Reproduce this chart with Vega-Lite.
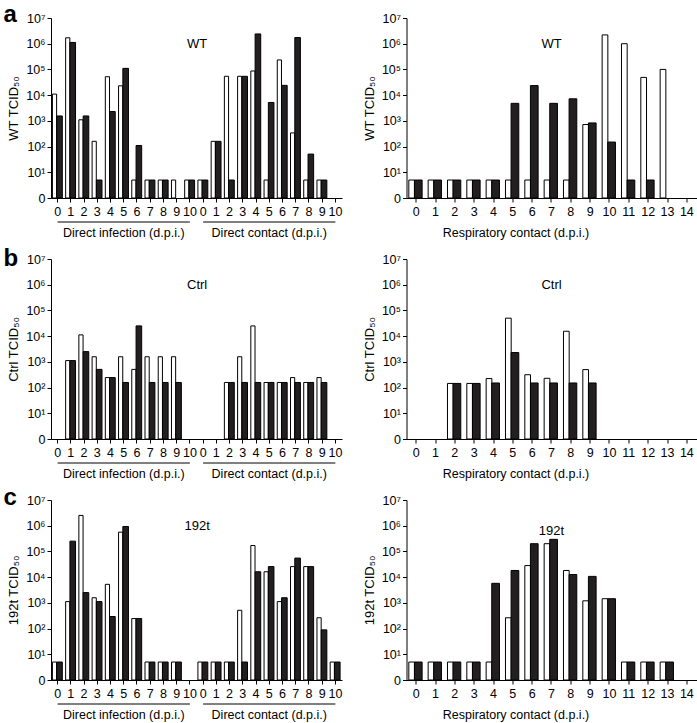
{
"$schema": "https://vega.github.io/schema/vega-lite/v6.json",
"padding": {"left": 3, "top": 3, "right": 0, "bottom": 0},
"config": {
  "font": "Liberation Sans",
  "view": {"stroke": null},
  "axis": {"domainColor": "black", "tickColor": "black", "labelColor": "black", "titleColor": "black", "grid": false, "labelFontSize": 12.5, "titleFontSize": 13, "titleFontWeight": "normal", "labelOverlap": false, "tickSize": 4, "domainWidth": 1, "tickWidth": 1},
  "text": {"color": "black"}
},
"datasets": {"titers": [
{"strain":"WT","route":"infection","day":0,"ferret":"A","tcid50":11000},{"strain":"WT","route":"infection","day":0,"ferret":"B","tcid50":1550},
{"strain":"WT","route":"infection","day":1,"ferret":"A","tcid50":1700000},{"strain":"WT","route":"infection","day":1,"ferret":"B","tcid50":1120000},
{"strain":"WT","route":"infection","day":2,"ferret":"A","tcid50":1100},{"strain":"WT","route":"infection","day":2,"ferret":"B","tcid50":1550},
{"strain":"WT","route":"infection","day":3,"ferret":"A","tcid50":160},{"strain":"WT","route":"infection","day":3,"ferret":"B","tcid50":5},
{"strain":"WT","route":"infection","day":4,"ferret":"A","tcid50":52000},{"strain":"WT","route":"infection","day":4,"ferret":"B","tcid50":2300},
{"strain":"WT","route":"infection","day":5,"ferret":"A","tcid50":23000},{"strain":"WT","route":"infection","day":5,"ferret":"B","tcid50":110000},
{"strain":"WT","route":"infection","day":6,"ferret":"A","tcid50":5},{"strain":"WT","route":"infection","day":6,"ferret":"B","tcid50":110},
{"strain":"WT","route":"infection","day":7,"ferret":"A","tcid50":5},{"strain":"WT","route":"infection","day":7,"ferret":"B","tcid50":5},
{"strain":"WT","route":"infection","day":8,"ferret":"A","tcid50":5},{"strain":"WT","route":"infection","day":8,"ferret":"B","tcid50":5},
{"strain":"WT","route":"infection","day":9,"ferret":"A","tcid50":5},
{"strain":"WT","route":"infection","day":10,"ferret":"A","tcid50":5},{"strain":"WT","route":"infection","day":10,"ferret":"B","tcid50":5},
{"strain":"WT","route":"contact","day":0,"ferret":"A","tcid50":5},{"strain":"WT","route":"contact","day":0,"ferret":"B","tcid50":5},
{"strain":"WT","route":"contact","day":1,"ferret":"A","tcid50":160},{"strain":"WT","route":"contact","day":1,"ferret":"B","tcid50":160},
{"strain":"WT","route":"contact","day":2,"ferret":"A","tcid50":54000},{"strain":"WT","route":"contact","day":2,"ferret":"B","tcid50":5},
{"strain":"WT","route":"contact","day":3,"ferret":"A","tcid50":54000},{"strain":"WT","route":"contact","day":3,"ferret":"B","tcid50":54000},
{"strain":"WT","route":"contact","day":4,"ferret":"A","tcid50":87000},{"strain":"WT","route":"contact","day":4,"ferret":"B","tcid50":2400000},
{"strain":"WT","route":"contact","day":5,"ferret":"A","tcid50":5},{"strain":"WT","route":"contact","day":5,"ferret":"B","tcid50":5200},
{"strain":"WT","route":"contact","day":6,"ferret":"A","tcid50":234000},{"strain":"WT","route":"contact","day":6,"ferret":"B","tcid50":24000},
{"strain":"WT","route":"contact","day":7,"ferret":"A","tcid50":340},{"strain":"WT","route":"contact","day":7,"ferret":"B","tcid50":1740000},
{"strain":"WT","route":"contact","day":8,"ferret":"A","tcid50":5},{"strain":"WT","route":"contact","day":8,"ferret":"B","tcid50":51},
{"strain":"WT","route":"contact","day":9,"ferret":"A","tcid50":5},{"strain":"WT","route":"contact","day":9,"ferret":"B","tcid50":5},
{"strain":"WT","route":"respiratory","day":0,"ferret":"A","tcid50":5},{"strain":"WT","route":"respiratory","day":0,"ferret":"B","tcid50":5},
{"strain":"WT","route":"respiratory","day":1,"ferret":"A","tcid50":5},{"strain":"WT","route":"respiratory","day":1,"ferret":"B","tcid50":5},
{"strain":"WT","route":"respiratory","day":2,"ferret":"A","tcid50":5},{"strain":"WT","route":"respiratory","day":2,"ferret":"B","tcid50":5},
{"strain":"WT","route":"respiratory","day":3,"ferret":"A","tcid50":5},{"strain":"WT","route":"respiratory","day":3,"ferret":"B","tcid50":5},
{"strain":"WT","route":"respiratory","day":4,"ferret":"A","tcid50":5},{"strain":"WT","route":"respiratory","day":4,"ferret":"B","tcid50":5},
{"strain":"WT","route":"respiratory","day":5,"ferret":"A","tcid50":5},{"strain":"WT","route":"respiratory","day":5,"ferret":"B","tcid50":4800},
{"strain":"WT","route":"respiratory","day":6,"ferret":"A","tcid50":5},{"strain":"WT","route":"respiratory","day":6,"ferret":"B","tcid50":23500},
{"strain":"WT","route":"respiratory","day":7,"ferret":"A","tcid50":5},{"strain":"WT","route":"respiratory","day":7,"ferret":"B","tcid50":4800},
{"strain":"WT","route":"respiratory","day":8,"ferret":"A","tcid50":5},{"strain":"WT","route":"respiratory","day":8,"ferret":"B","tcid50":7200},
{"strain":"WT","route":"respiratory","day":9,"ferret":"A","tcid50":720},{"strain":"WT","route":"respiratory","day":9,"ferret":"B","tcid50":830},
{"strain":"WT","route":"respiratory","day":10,"ferret":"A","tcid50":2200000},{"strain":"WT","route":"respiratory","day":10,"ferret":"B","tcid50":150},
{"strain":"WT","route":"respiratory","day":11,"ferret":"A","tcid50":1000000},{"strain":"WT","route":"respiratory","day":11,"ferret":"B","tcid50":5},
{"strain":"WT","route":"respiratory","day":12,"ferret":"A","tcid50":49000},{"strain":"WT","route":"respiratory","day":12,"ferret":"B","tcid50":5},
{"strain":"WT","route":"respiratory","day":13,"ferret":"A","tcid50":100000},
{"strain":"Ctrl","route":"infection","day":1,"ferret":"A","tcid50":1120},{"strain":"Ctrl","route":"infection","day":1,"ferret":"B","tcid50":1120},
{"strain":"Ctrl","route":"infection","day":2,"ferret":"A","tcid50":11200},{"strain":"Ctrl","route":"infection","day":2,"ferret":"B","tcid50":2500},
{"strain":"Ctrl","route":"infection","day":3,"ferret":"A","tcid50":1580},{"strain":"Ctrl","route":"infection","day":3,"ferret":"B","tcid50":510},
{"strain":"Ctrl","route":"infection","day":4,"ferret":"A","tcid50":245},{"strain":"Ctrl","route":"infection","day":4,"ferret":"B","tcid50":245},
{"strain":"Ctrl","route":"infection","day":5,"ferret":"A","tcid50":1580},{"strain":"Ctrl","route":"infection","day":5,"ferret":"B","tcid50":158},
{"strain":"Ctrl","route":"infection","day":6,"ferret":"A","tcid50":510},{"strain":"Ctrl","route":"infection","day":6,"ferret":"B","tcid50":25000},
{"strain":"Ctrl","route":"infection","day":7,"ferret":"A","tcid50":1580},{"strain":"Ctrl","route":"infection","day":7,"ferret":"B","tcid50":158},
{"strain":"Ctrl","route":"infection","day":8,"ferret":"A","tcid50":1580},{"strain":"Ctrl","route":"infection","day":8,"ferret":"B","tcid50":158},
{"strain":"Ctrl","route":"infection","day":9,"ferret":"A","tcid50":1580},{"strain":"Ctrl","route":"infection","day":9,"ferret":"B","tcid50":158},
{"strain":"Ctrl","route":"contact","day":2,"ferret":"A","tcid50":158},{"strain":"Ctrl","route":"contact","day":2,"ferret":"B","tcid50":158},
{"strain":"Ctrl","route":"contact","day":3,"ferret":"A","tcid50":1580},{"strain":"Ctrl","route":"contact","day":3,"ferret":"B","tcid50":158},
{"strain":"Ctrl","route":"contact","day":4,"ferret":"A","tcid50":25000},{"strain":"Ctrl","route":"contact","day":4,"ferret":"B","tcid50":158},
{"strain":"Ctrl","route":"contact","day":5,"ferret":"A","tcid50":158},{"strain":"Ctrl","route":"contact","day":5,"ferret":"B","tcid50":158},
{"strain":"Ctrl","route":"contact","day":6,"ferret":"A","tcid50":158},{"strain":"Ctrl","route":"contact","day":6,"ferret":"B","tcid50":158},
{"strain":"Ctrl","route":"contact","day":7,"ferret":"A","tcid50":245},{"strain":"Ctrl","route":"contact","day":7,"ferret":"B","tcid50":158},
{"strain":"Ctrl","route":"contact","day":8,"ferret":"A","tcid50":158},{"strain":"Ctrl","route":"contact","day":8,"ferret":"B","tcid50":158},
{"strain":"Ctrl","route":"contact","day":9,"ferret":"A","tcid50":245},{"strain":"Ctrl","route":"contact","day":9,"ferret":"B","tcid50":158},
{"strain":"Ctrl","route":"respiratory","day":2,"ferret":"A","tcid50":145},{"strain":"Ctrl","route":"respiratory","day":2,"ferret":"B","tcid50":145},
{"strain":"Ctrl","route":"respiratory","day":3,"ferret":"A","tcid50":145},{"strain":"Ctrl","route":"respiratory","day":3,"ferret":"B","tcid50":145},
{"strain":"Ctrl","route":"respiratory","day":4,"ferret":"A","tcid50":224},{"strain":"Ctrl","route":"respiratory","day":4,"ferret":"B","tcid50":151},
{"strain":"Ctrl","route":"respiratory","day":5,"ferret":"A","tcid50":50000},{"strain":"Ctrl","route":"respiratory","day":5,"ferret":"B","tcid50":2300},
{"strain":"Ctrl","route":"respiratory","day":6,"ferret":"A","tcid50":316},{"strain":"Ctrl","route":"respiratory","day":6,"ferret":"B","tcid50":151},
{"strain":"Ctrl","route":"respiratory","day":7,"ferret":"A","tcid50":229},{"strain":"Ctrl","route":"respiratory","day":7,"ferret":"B","tcid50":151},
{"strain":"Ctrl","route":"respiratory","day":8,"ferret":"A","tcid50":15500},{"strain":"Ctrl","route":"respiratory","day":8,"ferret":"B","tcid50":151},
{"strain":"Ctrl","route":"respiratory","day":9,"ferret":"A","tcid50":500},{"strain":"Ctrl","route":"respiratory","day":9,"ferret":"B","tcid50":151},
{"strain":"192t","route":"infection","day":0,"ferret":"A","tcid50":5},{"strain":"192t","route":"infection","day":0,"ferret":"B","tcid50":5},
{"strain":"192t","route":"infection","day":1,"ferret":"A","tcid50":1120},{"strain":"192t","route":"infection","day":1,"ferret":"B","tcid50":251000},
{"strain":"192t","route":"infection","day":2,"ferret":"A","tcid50":2510000},{"strain":"192t","route":"infection","day":2,"ferret":"B","tcid50":2510},
{"strain":"192t","route":"infection","day":3,"ferret":"A","tcid50":1580},{"strain":"192t","route":"infection","day":3,"ferret":"B","tcid50":1120},
{"strain":"192t","route":"infection","day":4,"ferret":"A","tcid50":5250},{"strain":"192t","route":"infection","day":4,"ferret":"B","tcid50":295},
{"strain":"192t","route":"infection","day":5,"ferret":"A","tcid50":562000},{"strain":"192t","route":"infection","day":5,"ferret":"B","tcid50":933000},
{"strain":"192t","route":"infection","day":6,"ferret":"A","tcid50":245},{"strain":"192t","route":"infection","day":6,"ferret":"B","tcid50":245},
{"strain":"192t","route":"infection","day":7,"ferret":"A","tcid50":5},{"strain":"192t","route":"infection","day":7,"ferret":"B","tcid50":5},
{"strain":"192t","route":"infection","day":8,"ferret":"A","tcid50":5},{"strain":"192t","route":"infection","day":8,"ferret":"B","tcid50":5},
{"strain":"192t","route":"infection","day":9,"ferret":"A","tcid50":5},{"strain":"192t","route":"infection","day":9,"ferret":"B","tcid50":5},
{"strain":"192t","route":"contact","day":0,"ferret":"A","tcid50":5},{"strain":"192t","route":"contact","day":0,"ferret":"B","tcid50":5},
{"strain":"192t","route":"contact","day":1,"ferret":"A","tcid50":5},{"strain":"192t","route":"contact","day":1,"ferret":"B","tcid50":5},
{"strain":"192t","route":"contact","day":2,"ferret":"A","tcid50":5},{"strain":"192t","route":"contact","day":2,"ferret":"B","tcid50":5},
{"strain":"192t","route":"contact","day":3,"ferret":"A","tcid50":513},{"strain":"192t","route":"contact","day":3,"ferret":"B","tcid50":5},
{"strain":"192t","route":"contact","day":4,"ferret":"A","tcid50":170000},{"strain":"192t","route":"contact","day":4,"ferret":"B","tcid50":16200},
{"strain":"192t","route":"contact","day":5,"ferret":"A","tcid50":16200},{"strain":"192t","route":"contact","day":5,"ferret":"B","tcid50":25700},
{"strain":"192t","route":"contact","day":6,"ferret":"A","tcid50":1120},{"strain":"192t","route":"contact","day":6,"ferret":"B","tcid50":1580},
{"strain":"192t","route":"contact","day":7,"ferret":"A","tcid50":25700},{"strain":"192t","route":"contact","day":7,"ferret":"B","tcid50":55000},
{"strain":"192t","route":"contact","day":8,"ferret":"A","tcid50":25700},{"strain":"192t","route":"contact","day":8,"ferret":"B","tcid50":25700},
{"strain":"192t","route":"contact","day":9,"ferret":"A","tcid50":263},{"strain":"192t","route":"contact","day":9,"ferret":"B","tcid50":89},
{"strain":"192t","route":"contact","day":10,"ferret":"A","tcid50":5},{"strain":"192t","route":"contact","day":10,"ferret":"B","tcid50":5},
{"strain":"192t","route":"respiratory","day":0,"ferret":"A","tcid50":5},{"strain":"192t","route":"respiratory","day":0,"ferret":"B","tcid50":5},
{"strain":"192t","route":"respiratory","day":1,"ferret":"A","tcid50":5},{"strain":"192t","route":"respiratory","day":1,"ferret":"B","tcid50":5},
{"strain":"192t","route":"respiratory","day":2,"ferret":"A","tcid50":5},{"strain":"192t","route":"respiratory","day":2,"ferret":"B","tcid50":5},
{"strain":"192t","route":"respiratory","day":3,"ferret":"A","tcid50":5},{"strain":"192t","route":"respiratory","day":3,"ferret":"B","tcid50":5},
{"strain":"192t","route":"respiratory","day":4,"ferret":"A","tcid50":5},{"strain":"192t","route":"respiratory","day":4,"ferret":"B","tcid50":5750},
{"strain":"192t","route":"respiratory","day":5,"ferret":"A","tcid50":263},{"strain":"192t","route":"respiratory","day":5,"ferret":"B","tcid50":18200},
{"strain":"192t","route":"respiratory","day":6,"ferret":"A","tcid50":28200},{"strain":"192t","route":"respiratory","day":6,"ferret":"B","tcid50":200000},
{"strain":"192t","route":"respiratory","day":7,"ferret":"A","tcid50":200000},{"strain":"192t","route":"respiratory","day":7,"ferret":"B","tcid50":295000},
{"strain":"192t","route":"respiratory","day":8,"ferret":"A","tcid50":18200},{"strain":"192t","route":"respiratory","day":8,"ferret":"B","tcid50":12600},
{"strain":"192t","route":"respiratory","day":9,"ferret":"A","tcid50":1200},{"strain":"192t","route":"respiratory","day":9,"ferret":"B","tcid50":10700},
{"strain":"192t","route":"respiratory","day":10,"ferret":"A","tcid50":1450},{"strain":"192t","route":"respiratory","day":10,"ferret":"B","tcid50":1450},
{"strain":"192t","route":"respiratory","day":11,"ferret":"A","tcid50":5},{"strain":"192t","route":"respiratory","day":11,"ferret":"B","tcid50":5},
{"strain":"192t","route":"respiratory","day":12,"ferret":"A","tcid50":5},{"strain":"192t","route":"respiratory","day":12,"ferret":"B","tcid50":5},
{"strain":"192t","route":"respiratory","day":13,"ferret":"A","tcid50":5},{"strain":"192t","route":"respiratory","day":13,"ferret":"B","tcid50":5}
],
"groups": [
{"group":"Direct infection (d.p.i.)","start":"infection|0","end":"infection|10","mid":"infection|5"},
{"group":"Direct contact (d.p.i.)","start":"contact|0","end":"contact|10","mid":"contact|5"}
]},
"columns": 2,
"bounds": "flush",
"spacing": {"row": 61, "column": 64.5},
"resolve": {"scale": {"x": "independent", "y": "independent"}},
"concat": [
 {"width": 291, "height": 180,
  "layer": [
   {"data": {"name": "titers"},
    "transform": [{"filter": "datum.strain == 'WT' && datum.route != 'respiratory' && datum.ferret == 'A'"}, {"calculate": "datum.route + '|' + datum.day", "as": "slot"}],
    "mark": {"type": "bar", "fill": "white", "stroke": "black", "strokeWidth": 1, "width": 4.2, "xOffset": -3.1},
    "encoding": {
     "x": {"field": "slot", "type": "nominal", "title": null, "scale": {"domain": ["infection|0","infection|1","infection|2","infection|3","infection|4","infection|5","infection|6","infection|7","infection|8","infection|9","infection|10","contact|0","contact|1","contact|2","contact|3","contact|4","contact|5","contact|6","contact|7","contact|8","contact|9","contact|10"], "paddingInner": 0, "paddingOuter": 0}, "axis": {"labelExpr": "split(datum.value, '|')[1]", "labelAngle": 0, "labelPadding": 3}},
     "y": {"field": "tcid50", "type": "quantitative", "title": "WT TCID₅₀", "scale": {"type": "log", "domain": [1, 10000000]}, "axis": {"values": [1,10,100,1000,10000,100000,1000000,10000000], "labelExpr": "['0','10¹','10²','10³','10⁴','10⁵','10⁶','10⁷'][round(log(datum.value)/LN10)]", "labelPadding": 2, "titlePadding": 5}},
     "y2": {"datum": 1}}},
   {"data": {"name": "titers"},
    "transform": [{"filter": "datum.strain == 'WT' && datum.route != 'respiratory' && datum.ferret == 'B'"}, {"calculate": "datum.route + '|' + datum.day", "as": "slot"}],
    "mark": {"type": "bar", "fill": "#231f20", "stroke": "black", "strokeWidth": 1, "width": 5.6, "xOffset": 1.9},
    "encoding": {"x": {"field": "slot", "type": "nominal", "title": null}, "y": {"field": "tcid50", "type": "quantitative", "title": "WT TCID₅₀"}, "y2": {"datum": 1}}},
   {"data": {"name": "groups"}, "mark": {"type": "rule", "color": "black", "strokeWidth": 1, "yOffset": 24},
    "encoding": {"x": {"field": "start", "type": "nominal", "title": null}, "x2": {"field": "end"}, "y": {"datum": 1}}},
   {"data": {"name": "groups"}, "mark": {"type": "text", "fontSize": 12.5, "baseline": "middle", "yOffset": 35},
    "encoding": {"x": {"field": "mid", "type": "nominal", "title": null}, "y": {"datum": 1}, "text": {"field": "group"}}},
   {"data": {"values": [{"label": "WT"}]}, "mark": {"type": "text", "fontSize": 13, "baseline": "middle", "dx": -6},
    "encoding": {"x": {"datum": "contact|0", "type": "nominal", "title": null}, "y": {"datum": 1000000}, "text": {"field": "label"}}},
   {"data": {"values": [{"panel": "a"}]}, "mark": {"type": "text", "fontSize": 24, "fontWeight": "bold", "align": "left", "baseline": "alphabetic", "dx": -54, "dy": 4},
    "encoding": {"x": {"datum": "infection|0", "type": "nominal", "title": null}, "y": {"datum": 10000000}, "text": {"field": "panel"}}}
  ]},
 {"width": 290, "height": 180,
  "layer": [
   {"data": {"name": "titers"},
    "transform": [{"filter": "datum.strain == 'WT' && datum.route == 'respiratory' && datum.ferret == 'A'"}],
    "mark": {"type": "bar", "fill": "white", "stroke": "black", "strokeWidth": 1, "width": 5.7, "xOffset": -4.5},
    "encoding": {
     "x": {"field": "day", "type": "ordinal", "title": "Respiratory contact (d.p.i.)", "scale": {"domain": [0,1,2,3,4,5,6,7,8,9,10,11,12,13,14], "paddingInner": 0, "paddingOuter": 0}, "axis": {"labelAngle": 0, "labelPadding": 3, "titleX": 109, "titleY": 34, "titleBaseline": "middle", "titleFontSize": 12.5}},
     "y": {"field": "tcid50", "type": "quantitative", "title": "WT TCID₅₀", "scale": {"type": "log", "domain": [1, 10000000]}, "axis": {"values": [1,10,100,1000,10000,100000,1000000,10000000], "labelExpr": "['0','10¹','10²','10³','10⁴','10⁵','10⁶','10⁷'][round(log(datum.value)/LN10)]", "labelPadding": 2, "titlePadding": 5}},
     "y2": {"datum": 1}}},
   {"data": {"name": "titers"},
    "transform": [{"filter": "datum.strain == 'WT' && datum.route == 'respiratory' && datum.ferret == 'B'"}],
    "mark": {"type": "bar", "fill": "#231f20", "stroke": "black", "strokeWidth": 1, "width": 7.7, "xOffset": 2.1},
    "encoding": {"x": {"field": "day", "type": "ordinal", "title": "Respiratory contact (d.p.i.)"}, "y": {"field": "tcid50", "type": "quantitative", "title": "WT TCID₅₀"}, "y2": {"datum": 1}}},
   {"data": {"values": [{"label": "WT"}]}, "mark": {"type": "text", "fontSize": 13, "baseline": "middle"},
    "encoding": {"x": {"datum": 7, "type": "ordinal", "title": "Respiratory contact (d.p.i.)"}, "y": {"datum": 1000000}, "text": {"field": "label"}}}
  ]},
 {"width": 291, "height": 180,
  "layer": [
   {"data": {"name": "titers"},
    "transform": [{"filter": "datum.strain == 'Ctrl' && datum.route != 'respiratory' && datum.ferret == 'A'"}, {"calculate": "datum.route + '|' + datum.day", "as": "slot"}],
    "mark": {"type": "bar", "fill": "white", "stroke": "black", "strokeWidth": 1, "width": 4.2, "xOffset": -3.1},
    "encoding": {
     "x": {"field": "slot", "type": "nominal", "title": null, "scale": {"domain": ["infection|0","infection|1","infection|2","infection|3","infection|4","infection|5","infection|6","infection|7","infection|8","infection|9","infection|10","contact|0","contact|1","contact|2","contact|3","contact|4","contact|5","contact|6","contact|7","contact|8","contact|9","contact|10"], "paddingInner": 0, "paddingOuter": 0}, "axis": {"labelExpr": "split(datum.value, '|')[1]", "labelAngle": 0, "labelPadding": 3}},
     "y": {"field": "tcid50", "type": "quantitative", "title": "Ctrl TCID₅₀", "scale": {"type": "log", "domain": [1, 10000000]}, "axis": {"values": [1,10,100,1000,10000,100000,1000000,10000000], "labelExpr": "['0','10¹','10²','10³','10⁴','10⁵','10⁶','10⁷'][round(log(datum.value)/LN10)]", "labelPadding": 2, "titlePadding": 5}},
     "y2": {"datum": 1}}},
   {"data": {"name": "titers"},
    "transform": [{"filter": "datum.strain == 'Ctrl' && datum.route != 'respiratory' && datum.ferret == 'B'"}, {"calculate": "datum.route + '|' + datum.day", "as": "slot"}],
    "mark": {"type": "bar", "fill": "#231f20", "stroke": "black", "strokeWidth": 1, "width": 5.6, "xOffset": 1.9},
    "encoding": {"x": {"field": "slot", "type": "nominal", "title": null}, "y": {"field": "tcid50", "type": "quantitative", "title": "Ctrl TCID₅₀"}, "y2": {"datum": 1}}},
   {"data": {"name": "groups"}, "mark": {"type": "rule", "color": "black", "strokeWidth": 1, "yOffset": 24},
    "encoding": {"x": {"field": "start", "type": "nominal", "title": null}, "x2": {"field": "end"}, "y": {"datum": 1}}},
   {"data": {"name": "groups"}, "mark": {"type": "text", "fontSize": 12.5, "baseline": "middle", "yOffset": 35},
    "encoding": {"x": {"field": "mid", "type": "nominal", "title": null}, "y": {"datum": 1}, "text": {"field": "group"}}},
   {"data": {"values": [{"label": "Ctrl"}]}, "mark": {"type": "text", "fontSize": 13, "baseline": "middle", "dx": -6},
    "encoding": {"x": {"datum": "contact|0", "type": "nominal", "title": null}, "y": {"datum": 1000000}, "text": {"field": "label"}}},
   {"data": {"values": [{"panel": "b"}]}, "mark": {"type": "text", "fontSize": 24, "fontWeight": "bold", "align": "left", "baseline": "alphabetic", "dx": -54, "dy": 7},
    "encoding": {"x": {"datum": "infection|0", "type": "nominal", "title": null}, "y": {"datum": 10000000}, "text": {"field": "panel"}}}
  ]},
 {"width": 290, "height": 180,
  "layer": [
   {"data": {"name": "titers"},
    "transform": [{"filter": "datum.strain == 'Ctrl' && datum.route == 'respiratory' && datum.ferret == 'A'"}],
    "mark": {"type": "bar", "fill": "white", "stroke": "black", "strokeWidth": 1, "width": 5.7, "xOffset": -4.5},
    "encoding": {
     "x": {"field": "day", "type": "ordinal", "title": "Respiratory contact (d.p.i.)", "scale": {"domain": [0,1,2,3,4,5,6,7,8,9,10,11,12,13,14], "paddingInner": 0, "paddingOuter": 0}, "axis": {"labelAngle": 0, "labelPadding": 3, "titleX": 109, "titleY": 34, "titleBaseline": "middle", "titleFontSize": 12.5}},
     "y": {"field": "tcid50", "type": "quantitative", "title": "Ctrl TCID₅₀", "scale": {"type": "log", "domain": [1, 10000000]}, "axis": {"values": [1,10,100,1000,10000,100000,1000000,10000000], "labelExpr": "['0','10¹','10²','10³','10⁴','10⁵','10⁶','10⁷'][round(log(datum.value)/LN10)]", "labelPadding": 2, "titlePadding": 5}},
     "y2": {"datum": 1}}},
   {"data": {"name": "titers"},
    "transform": [{"filter": "datum.strain == 'Ctrl' && datum.route == 'respiratory' && datum.ferret == 'B'"}],
    "mark": {"type": "bar", "fill": "#231f20", "stroke": "black", "strokeWidth": 1, "width": 7.7, "xOffset": 2.1},
    "encoding": {"x": {"field": "day", "type": "ordinal", "title": "Respiratory contact (d.p.i.)"}, "y": {"field": "tcid50", "type": "quantitative", "title": "Ctrl TCID₅₀"}, "y2": {"datum": 1}}},
   {"data": {"values": [{"label": "Ctrl"}]}, "mark": {"type": "text", "fontSize": 13, "baseline": "middle"},
    "encoding": {"x": {"datum": 7, "type": "ordinal", "title": "Respiratory contact (d.p.i.)"}, "y": {"datum": 1000000}, "text": {"field": "label"}}}
  ]},
 {"width": 291, "height": 180,
  "layer": [
   {"data": {"name": "titers"},
    "transform": [{"filter": "datum.strain == '192t' && datum.route != 'respiratory' && datum.ferret == 'A'"}, {"calculate": "datum.route + '|' + datum.day", "as": "slot"}],
    "mark": {"type": "bar", "fill": "white", "stroke": "black", "strokeWidth": 1, "width": 4.2, "xOffset": -3.1},
    "encoding": {
     "x": {"field": "slot", "type": "nominal", "title": null, "scale": {"domain": ["infection|0","infection|1","infection|2","infection|3","infection|4","infection|5","infection|6","infection|7","infection|8","infection|9","infection|10","contact|0","contact|1","contact|2","contact|3","contact|4","contact|5","contact|6","contact|7","contact|8","contact|9","contact|10"], "paddingInner": 0, "paddingOuter": 0}, "axis": {"labelExpr": "split(datum.value, '|')[1]", "labelAngle": 0, "labelPadding": 3}},
     "y": {"field": "tcid50", "type": "quantitative", "title": "192t TCID₅₀", "scale": {"type": "log", "domain": [1, 10000000]}, "axis": {"values": [1,10,100,1000,10000,100000,1000000,10000000], "labelExpr": "['0','10¹','10²','10³','10⁴','10⁵','10⁶','10⁷'][round(log(datum.value)/LN10)]", "labelPadding": 2, "titlePadding": 5}},
     "y2": {"datum": 1}}},
   {"data": {"name": "titers"},
    "transform": [{"filter": "datum.strain == '192t' && datum.route != 'respiratory' && datum.ferret == 'B'"}, {"calculate": "datum.route + '|' + datum.day", "as": "slot"}],
    "mark": {"type": "bar", "fill": "#231f20", "stroke": "black", "strokeWidth": 1, "width": 5.6, "xOffset": 1.9},
    "encoding": {"x": {"field": "slot", "type": "nominal", "title": null}, "y": {"field": "tcid50", "type": "quantitative", "title": "192t TCID₅₀"}, "y2": {"datum": 1}}},
   {"data": {"name": "groups"}, "mark": {"type": "rule", "color": "black", "strokeWidth": 1, "yOffset": 24},
    "encoding": {"x": {"field": "start", "type": "nominal", "title": null}, "x2": {"field": "end"}, "y": {"datum": 1}}},
   {"data": {"name": "groups"}, "mark": {"type": "text", "fontSize": 12.5, "baseline": "middle", "yOffset": 35},
    "encoding": {"x": {"field": "mid", "type": "nominal", "title": null}, "y": {"datum": 1}, "text": {"field": "group"}}},
   {"data": {"values": [{"label": "192t"}]}, "mark": {"type": "text", "fontSize": 13, "baseline": "middle", "dx": -6},
    "encoding": {"x": {"datum": "contact|0", "type": "nominal", "title": null}, "y": {"datum": 1000000}, "text": {"field": "label"}}},
   {"data": {"values": [{"panel": "c"}]}, "mark": {"type": "text", "fontSize": 24, "fontWeight": "bold", "align": "left", "baseline": "alphabetic", "dx": -54, "dy": 5},
    "encoding": {"x": {"datum": "infection|0", "type": "nominal", "title": null}, "y": {"datum": 10000000}, "text": {"field": "panel"}}}
  ]},
 {"width": 290, "height": 180,
  "layer": [
   {"data": {"name": "titers"},
    "transform": [{"filter": "datum.strain == '192t' && datum.route == 'respiratory' && datum.ferret == 'A'"}],
    "mark": {"type": "bar", "fill": "white", "stroke": "black", "strokeWidth": 1, "width": 5.7, "xOffset": -4.5},
    "encoding": {
     "x": {"field": "day", "type": "ordinal", "title": "Respiratory contact (d.p.i.)", "scale": {"domain": [0,1,2,3,4,5,6,7,8,9,10,11,12,13,14], "paddingInner": 0, "paddingOuter": 0}, "axis": {"labelAngle": 0, "labelPadding": 3, "titleX": 109, "titleY": 34, "titleBaseline": "middle", "titleFontSize": 12.5}},
     "y": {"field": "tcid50", "type": "quantitative", "title": "192t TCID₅₀", "scale": {"type": "log", "domain": [1, 10000000]}, "axis": {"values": [1,10,100,1000,10000,100000,1000000,10000000], "labelExpr": "['0','10¹','10²','10³','10⁴','10⁵','10⁶','10⁷'][round(log(datum.value)/LN10)]", "labelPadding": 2, "titlePadding": 5}},
     "y2": {"datum": 1}}},
   {"data": {"name": "titers"},
    "transform": [{"filter": "datum.strain == '192t' && datum.route == 'respiratory' && datum.ferret == 'B'"}],
    "mark": {"type": "bar", "fill": "#231f20", "stroke": "black", "strokeWidth": 1, "width": 7.7, "xOffset": 2.1},
    "encoding": {"x": {"field": "day", "type": "ordinal", "title": "Respiratory contact (d.p.i.)"}, "y": {"field": "tcid50", "type": "quantitative", "title": "192t TCID₅₀"}, "y2": {"datum": 1}}},
   {"data": {"values": [{"label": "192t"}]}, "mark": {"type": "text", "fontSize": 13, "baseline": "middle", "dy": 5},
    "encoding": {"x": {"datum": 7, "type": "ordinal", "title": "Respiratory contact (d.p.i.)"}, "y": {"datum": 1000000}, "text": {"field": "label"}}}
  ]}
]
}
